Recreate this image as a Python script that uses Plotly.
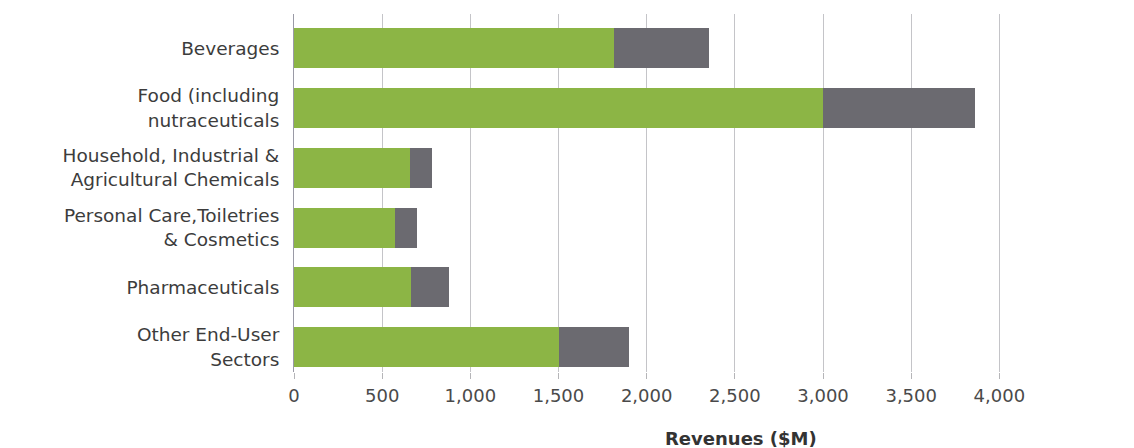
import plotly.graph_objects as go

# End-user sectors (top to bottom) and revenue split, $M
sectors = [
    "Beverages",
    "Food (including<br>nutraceuticals",
    "Household, Industrial &<br>Agricultural Chemicals",
    "Personal Care,Toiletries<br>& Cosmetics",
    "Pharmaceuticals",
    "Other End-User<br>Sectors",
]
green_values = [1815, 3000, 660, 570, 665, 1505]
grey_values = [540, 860, 125, 130, 215, 395]

x_ticks = [0, 500, 1000, 1500, 2000, 2500, 3000, 3500, 4000]
x_tick_labels = ["0", "500", "1,000", "1,500", "2,000", "2,500", "3,000", "3,500", "4,000"]

GREEN = "#8cb545"
GREY = "#6b6a70"
TEXT = "#3c3c3c"
FONT = "DejaVu Sans"

fig = go.Figure()
fig.add_trace(go.Bar(
    y=sectors, x=green_values, orientation="h",
    marker=dict(color=GREEN, line=dict(width=0)), name="green",
))
fig.add_trace(go.Bar(
    y=sectors, x=grey_values, orientation="h",
    marker=dict(color=GREY, line=dict(width=0)), name="grey",
))

fig.update_layout(
    width=1134, height=448,
    margin=dict(l=294, r=117, t=14, b=76),
    paper_bgcolor="#ffffff", plot_bgcolor="#ffffff",
    barmode="stack", bargap=0.33,
    showlegend=False,
    font=dict(family=FONT, size=18, color=TEXT),
    xaxis=dict(
        range=[0, 4100],
        tickvals=x_ticks, ticktext=x_tick_labels,
        showgrid=True, gridcolor="#c4c4c8", gridwidth=1,
        zeroline=False, showline=False,
        ticks="outside", ticklen=6, tickcolor="#b5b5b8", tickwidth=1,
        tickfont=dict(family=FONT, size=18, color="#4a4a4a"),
        ticklabelstandoff=1,
    ),
    yaxis=dict(
        type="category",
        range=[5.418, -0.574],
        showgrid=False, zeroline=False,
        showline=True, linecolor="#9a9aa6", linewidth=1,
        ticks="", ticklabelstandoff=10,
        tickfont=dict(family=FONT, size=18.5, color=TEXT),
    ),
    annotations=[dict(
        text="Revenues ($M)", x=2535, xref="x", y=0, yref="paper",
        yshift=-66, showarrow=False, xanchor="center", yanchor="middle",
        font=dict(family=FONT, size=18, color="#333333", weight="bold"),
    )],
)

fig.write_html("out.html")
